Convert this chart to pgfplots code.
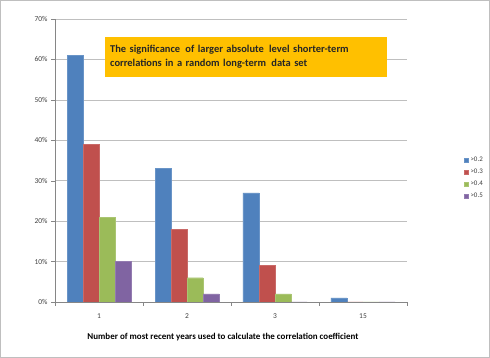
\documentclass[border=0pt]{standalone}
\usepackage{pgfplots}
\pgfplotsset{compat=1.18}
\usepackage{fontspec}
\setmainfont{Carlito}
\definecolor{xblue}{HTML}{4F81BD}
\definecolor{xred}{HTML}{C0504D}
\definecolor{xgreen}{HTML}{9BBB59}
\definecolor{xpurple}{HTML}{8064A2}
\definecolor{xorange}{HTML}{FFC000}
\definecolor{xgrid}{HTML}{BFBFBF}
\definecolor{xaxis}{HTML}{868686}
\definecolor{xtext}{HTML}{404040}
\begin{document}
\begin{tikzpicture}
\draw[draw=xgrid, line width=1.2bp, fill=white] (0.6bp,0.6bp) rectangle (489.4bp,357.4bp);
\begin{axis}[
  at={(55bp,56bp)}, anchor=south west,
  scale only axis, width=352bp, height=283bp,
  ybar=0pt, bar width=16bp,
  xmin=-0.5, xmax=3.5, ymin=0, ymax=70,
  xtick={0,1,2,3}, xticklabels={1,2,3,15},
  minor xtick={-0.5,0.5,1.5,2.5,3.5},
  major x tick style={draw=none},
  minor tick length=4bp, major tick length=4bp,
  tick align=outside,
  ytick={0,10,...,70},
  yticklabel={\pgfmathprintnumber{\tick}\%},
  /pgf/number format/assume math mode=true,
  axis x line*=bottom, axis y line*=left,
  axis line style={draw=xaxis, -},
  tick style={draw=xaxis},
  ymajorgrids, grid style={draw=xgrid, line width=0.6bp},
  ticklabel style={font=\fontsize{7.5}{8.5}\selectfont, text=xtext},
  xticklabel style={yshift=-4bp},
  xlabel={\textbf{Number of most recent years used to calculate the correlation coefficient}},
  xlabel style={font=\fontsize{9}{10}\selectfont, text=black, anchor=north, yshift=-8bp, xshift=-8bp},
  legend style={draw=none, fill=none, at={(axis description cs:1.16,0.52)}, anchor=north west,
    font=\fontsize{7}{8}\selectfont, text=xtext, row sep=2bp, inner sep=0pt},
  legend cell align=left,
  legend image code/.code={\fill[#1] (0bp,-2.3bp) rectangle (4.6bp,2.3bp);},
]
\addplot[fill=xblue, draw=xblue!85!white] coordinates {(0,61) (1,33) (2,27) (3,1)};
\addplot[fill=xred, draw=xred!85!white] coordinates {(0,39) (1,18) (2,9) (3,0)};
\addplot[fill=xgreen, draw=xgreen!85!white] coordinates {(0,21) (1,6) (2,2) (3,0)};
\addplot[fill=xpurple, draw=xpurple!85!white] coordinates {(0,10) (1,2) (2,0) (3,0)};
\legend{>0.2,>0.3,>0.4,>0.5}
\end{axis}
\node[fill=xorange, anchor=north west, minimum width=282bp, minimum height=40bp, text width=272bp, inner xsep=5bp, align=left, font=\fontsize{10.5}{14}\selectfont\bfseries, text=black!85] at (105bp,321.3bp) {The significance\, of larger absolute\, level shorter-term\\correlations in a random long-term\, data set};
\end{tikzpicture}
\end{document}
